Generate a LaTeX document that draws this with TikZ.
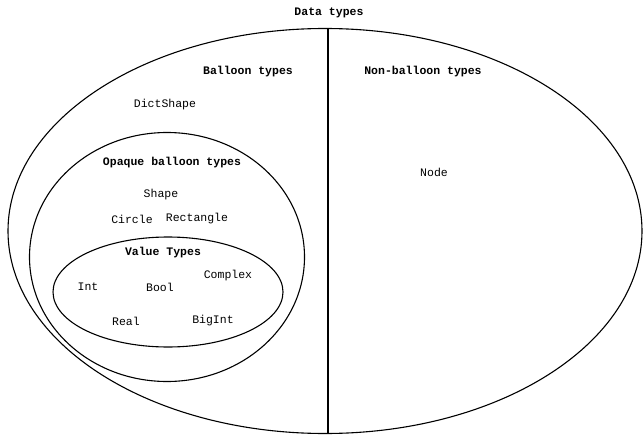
\documentclass[tikz,border=0pt]{standalone}
\usepackage{fontspec}
\setmonofont{Liberation Mono}
\usetikzlibrary{positioning, shapes.geometric}
\tikzset{
  region/.style={draw, ellipse, line width=1.1pt, inner sep=0pt},
  head/.style={font=\ttfamily\bfseries\fontsize{11.5}{12}\selectfont, inner sep=1pt},
  elem/.style={font=\ttfamily\fontsize{11.5}{12}\selectfont, inner sep=1pt}
}
\begin{document}
\begin{tikzpicture}[x=1pt, y=-1pt]
\useasboundingbox (0,0) rectangle (643,436);
% nested regions
\node[region, minimum width=634pt, minimum height=405pt] (data) at (325,231) {};
\node[region, minimum width=275pt, minimum height=249pt] (opaque) at (167,257) {};
\node[region, minimum width=230pt, minimum height=110pt] (value) at (168,292) {};
\coordinate (splittop) at (328,29);
\coordinate (splitbot) at (328,434);
\draw[line width=1.1pt] (splittop) -- (splitbot);
% headings
\node[head] (datalbl) at (329,13) {Data types};
\node[head] (balloonlbl) at (248,72) {Balloon types};
\node[head] (nonballoonlbl) at (423,72) {Non-balloon types};
\node[head] (opaquelbl) at (172,163) {Opaque balloon types};
\node[head] (valuelbl) at (163,253) {Value Types};
% members
\node[elem] (dictshape) at (165,105) {DictShape};
\node[elem] (shape) at (161,195) {Shape};
\node[elem] (circle) at (132,219) {Circle};
\node[elem] (rectangle) at (197,219) {Rectangle};
\node[elem] (complex) at (228,276) {Complex};
\node[elem] (int) at (88,287) {Int};
\node[elem] (bool) at (160,287) {Bool};
\node[elem] (real) at (126,321) {Real};
\node[elem] (bigint) at (213,321) {BigInt};
\node[elem] (node) at (434,172) {Node};
\end{tikzpicture}
\end{document}
